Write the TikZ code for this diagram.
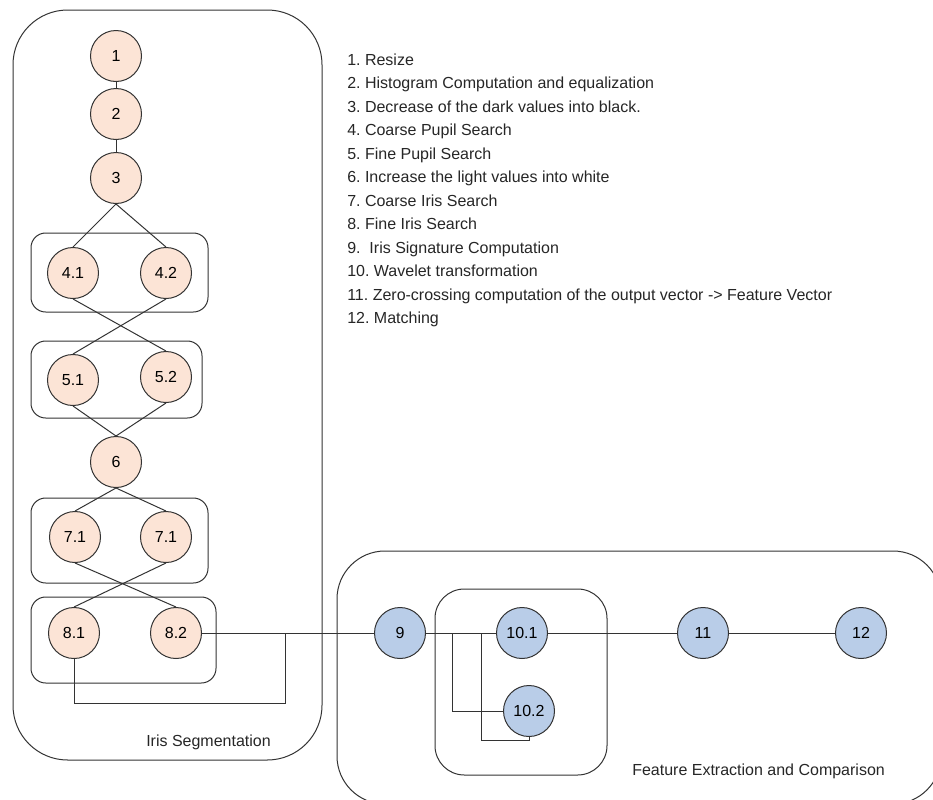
\documentclass[tikz,border=0pt]{standalone}
\usepackage{fontspec}
\setmainfont{Liberation Sans}
\frenchspacing
\definecolor{segfill}{HTML}{FCE4D6}
\definecolor{featfill}{HTML}{B9CDE8}
\definecolor{linegray}{HTML}{333333}

\begin{document}
\begin{tikzpicture}[x=0.75pt,y=-0.75pt,
    stage/.style={circle,draw=linegray,line width=0.75pt,minimum size=38.25pt,
        inner sep=0pt,font=\fontsize{12}{14}\selectfont},
    seg/.style={stage,fill=segfill},
    feat/.style={stage,fill=featfill},
    link/.style={draw=linegray,line width=0.75pt},
    group/.style={draw=linegray,line width=0.75pt,rounded corners=11pt},
    lbl/.style={anchor=base west,inner sep=0pt,text=black!85,
        font=\fontsize{12}{14}\selectfont}]
\clip (0,0) rectangle (933,800);

% outer frames
\draw [group,rounded corners=41pt] (13,10) rectangle (322,760);
\draw [group,rounded corners=36pt] (337,551) rectangle (941,804);
\node [lbl] (seglabel) at (146,746) {Iris Segmentation};
\node [lbl] (featlabel) at (632,775) {Feature Extraction and Comparison};

% inner groups
\draw [group] (31,233) rectangle (208,312);
\draw [group] (31,341) rectangle (202,418);
\draw [group] (31,498) rectangle (208,583);
\draw [group] (31,597) rectangle (216,683);
\draw [group,rounded corners=22pt] (435,589) rectangle (607,775);

% segmentation stages
\node [seg] (n1) at (116,56) {1};
\node [seg] (n2) at (116,114) {2};
\node [seg] (n3) at (116,178) {3};
\node [seg] (n41) at (73,273) {4.1};
\node [seg] (n42) at (166,273) {4.2};
\node [seg] (n51) at (73,380) {5.1};
\node [seg] (n52) at (166,377) {5.2};
\node [seg] (n6) at (116,462) {6};
\node [seg] (n71) at (75,537) {7.1};
\node [seg] (n72) at (166,537) {7.1};
\node [seg] (n81) at (74,633) {8.1};
\node [seg] (n82) at (176,633) {8.2};

% feature stages
\node [feat] (n9) at (400,633) {9};
\node [feat] (n101) at (522,633) {10.1};
\node [feat] (n102) at (529,711) {10.2};
\node [feat] (n11) at (703,633) {11};
\node [feat] (n12) at (861,633) {12};

\coordinate (j8) at (285,633);
\coordinate (ja) at (452,633);
\coordinate (jb) at (481,633);

% links
\draw [link] (n1) -- (n2);
\draw [link] (n2) -- (n3);
\draw [link] (n3.south) -- (n41.north);
\draw [link] (n3.south) -- (n42.north);
\draw [link] (n41.south) -- (n52.north);
\draw [link] (n42.south) -- (n51.north);
\draw [link] (n51.south) -- (n6.north);
\draw [link] (n52.south) -- (n6.north);
\draw [link] (n6.south) -- (n71.north);
\draw [link] (n6.south) -- (n72.north);
\draw [link] (n71.south) -- (n82.north);
\draw [link] (n72.south) -- (n81.north);
\draw [link] (n82) -- (n9);
\draw [link] (n81.south) |- (285,703) -- (j8);
\draw [link] (n9) -- (n101);
\draw [link] (ja) |- (n102.west);
\draw [link] (jb) |- (529,740) -- (n102.south);
\draw [link] (n101) -- (n11);
\draw [link] (n11) -- (n12);

% step list
\foreach \txt [count=\k] in {1. Resize,
    2. Histogram Computation and equalization,
    3. Decrease of the dark values into black.,
    4. Coarse Pupil Search,
    5. Fine Pupil Search,
    6. Increase the light values into white,
    7. Coarse Iris Search,
    8. Fine Iris Search,
    9.\ \ Iris Signature Computation,
    10. Wavelet transformation,
    11. Zero-crossing computation of the output vector -> Feature Vector,
    12. Matching}
  \node [lbl] (item\k) at (347,{65+(\k-1)*23.5}) {\txt};
\end{tikzpicture}
\end{document}
